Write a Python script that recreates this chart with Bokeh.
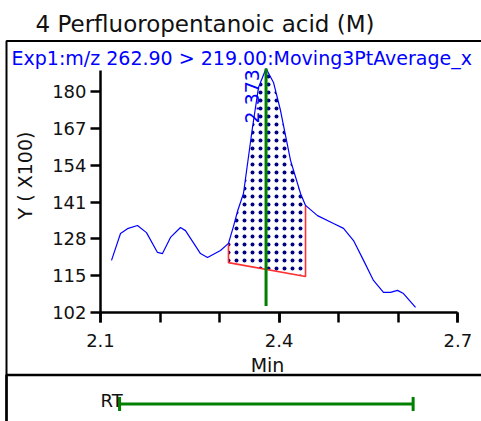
import math
import numpy as np
from bokeh.plotting import figure
from bokeh.models import Range1d, FixedTicker, Label, LinearAxis, BoxAnnotation
from bokeh.embed import file_html
from bokeh.resources import INLINE

# ---------------- data ----------------
title_text = "4 Perfluoropentanoic acid (M)"
trace_name = "Exp1:m/z 262.90 > 219.00:Moving3PtAverage_x"
x_label = "Min"
y_label = "Y ( X100)"
rt_text = "RT"
peak_label = "2.373"

time_min = [2.1185, 2.1336, 2.1453, 2.1621, 2.1772, 2.1957, 2.2041, 2.2175, 2.2343,
            2.2427, 2.2679, 2.2797, 2.3015, 2.3149, 2.3233, 2.3305, 2.3401, 2.3552,
            2.3653, 2.3780, 2.3905, 2.4023, 2.4191, 2.4359, 2.4443, 2.4644, 2.4913,
            2.5081, 2.5249, 2.5417, 2.5584, 2.5752, 2.5870, 2.5987, 2.6088, 2.6290]
intensity = [120.4, 129.9, 131.6, 132.7, 130.2, 123.2, 122.8, 128.5, 132.0,
             130.9, 122.8, 121.4, 123.9, 126.4, 132.4, 138.0, 144.0, 167.3,
             181.4, 188.1, 183.2, 173.3, 155.7, 144.0, 139.8, 136.2, 133.4,
             131.7, 127.4, 120.4, 113.3, 109.1, 109.1, 109.8, 108.7, 103.8]

peak_start = 2.3149
peak_end = 2.4443
baseline_start = 119.6
baseline_end = 114.7
apex_time = 2.3780
apex_height = 188.1
line_bottom = 104.3
rt_window = [2.132, 2.625]

x_ticks = [2.1, 2.4, 2.7]
x_minor_ticks = [2.1, 2.2, 2.3, 2.4, 2.5, 2.6, 2.7]
y_ticks = [102, 115, 128, 141, 154, 167, 180]
y_axis_top = 187.4

# ---------------- layout constants ----------------
W, H = 481, 421
PX_X = 595.5          # pixels per minute
PX_Y = 2.833          # pixels per unit (X100)
X0_PX, Y0_PX = 100, 312   # pixel position of (2.1, 102); frame fills the whole canvas
x_start = 2.1 - X0_PX / PX_X
x_end = x_start + W / PX_X
y_end = 102 + Y0_PX / PX_Y
y_start = y_end - H / PX_Y

def dy(py):  # canvas pixel row -> data y (for decorations only)
    return 102 + (Y0_PX - py) / PX_Y

def dx(px):  # canvas pixel column -> data x (for decorations only)
    return 2.1 + (px - X0_PX) / PX_X

FONT = "DejaVu Sans"
BLUE = "#0000ff"
GREEN = "#008000"
TXT = "#111111"

p = figure(width=W, height=H, output_backend="svg", toolbar_location=None,
           x_range=Range1d(x_start, x_end), y_range=Range1d(y_start, y_end),
           x_axis_type=None, y_axis_type=None,
           min_border_left=0, min_border_right=0, min_border_bottom=0, min_border_top=0)
p.outline_line_color = None
p.background_fill_color = "white"
p.border_fill_color = "white"

# axes at fixed locations
xax = LinearAxis(fixed_location=y_ticks[0], bounds=(x_ticks[0], x_ticks[-1]),
                 ticker=FixedTicker(ticks=x_ticks, minor_ticks=x_minor_ticks))
yax = LinearAxis(fixed_location=x_ticks[0], bounds=(y_ticks[0], y_axis_top),
                 ticker=FixedTicker(ticks=y_ticks, minor_ticks=[]))
for ax in (xax, yax):
    ax.axis_line_width = 2.5
    ax.axis_line_color = "black"
    ax.major_tick_line_width = 2.5
    ax.major_tick_line_color = "black"
    ax.major_tick_out = 10
    ax.major_tick_in = 0
    ax.minor_tick_line_width = 2.5
    ax.minor_tick_line_color = "black"
    ax.minor_tick_out = 10
    ax.minor_tick_in = 0
    ax.major_label_text_font = FONT
    ax.major_label_text_font_size = "18px"
    ax.major_label_text_color = TXT
xax.major_label_standoff = 11
yax.major_label_standoff = 4
p.add_layout(xax, "below")
p.add_layout(yax, "left")

# report box (open to the right and bottom, like the cropped original) and RT-row separator
p.add_layout(BoxAnnotation(left=dx(6), right=dx(W + 20), top=dy(40.5), bottom=dy(H + 20),
                           fill_color=None, fill_alpha=0, line_color="black",
                           line_alpha=1.0, line_width=2))
p.add_layout(BoxAnnotation(left=dx(6), right=dx(W + 20), top=dy(374.5), bottom=dy(H + 20),
                           fill_color=None, fill_alpha=0, line_color="black",
                           line_alpha=1.0, line_width=2.5))

# shaded peak area
t = np.array(time_min)
v = np.array(intensity)
mask = (t >= peak_start - 1e-9) & (t <= peak_end + 1e-9)
poly_x = list(t[mask]) + [peak_end, peak_start]
poly_y = list(v[mask]) + [baseline_end, baseline_start]
p.patch(poly_x, poly_y, fill_color="white", line_color=None,
        hatch_pattern="dot", hatch_color="#000080", hatch_scale=8, hatch_weight=0.5)

# red integration boundary
left_top = float(v[mask][0])
right_top = float(v[mask][-1])
p.line([peak_start, peak_start, peak_end, peak_end],
       [left_top, baseline_start, baseline_end, right_top],
       line_color="#ff3030", line_width=1.6)

# chromatogram trace
p.line(time_min, intensity, line_color=BLUE, line_width=1.2)

# retention-time marker
p.line([apex_time, apex_time], [line_bottom, apex_height], line_color=GREEN, line_width=3)
p.add_layout(Label(x=apex_time, y=dy(123), text=peak_label, angle=math.pi / 2,
                   x_offset=-14.5, text_align="left", text_baseline="alphabetic",
                   text_font=FONT, text_font_size="19px", text_color=BLUE))

# RT window row
rt_row_y = dy(403.5)
p.line(rt_window, [rt_row_y, rt_row_y], line_color=GREEN, line_width=3)
p.scatter(rt_window, [rt_row_y, rt_row_y], marker="dash", size=14, angle=math.pi / 2,
          line_color=GREEN, line_width=3)

# texts in screen units (origin at bottom-left of canvas)
def lab(text, px, py, size, color=TXT, angle=0.0, align="left", baseline="alphabetic"):
    p.add_layout(Label(x=px, y=H - py, x_units="screen", y_units="screen", text=text, angle=angle,
                       text_align=align, text_baseline=baseline, text_font=FONT,
                       text_font_size=size, text_color=color))

lab(title_text, 35, 23, "23px")
lab(trace_name, 11, 57, "19px", color=BLUE)
lab(x_label, 267, 364, "19px", align="center")
lab(y_label, 24.5, 175, "19px", angle=math.pi / 2, align="center")
lab(rt_text, 100, 400, "18px")

open("out.html", "w").write(file_html(p, INLINE))
